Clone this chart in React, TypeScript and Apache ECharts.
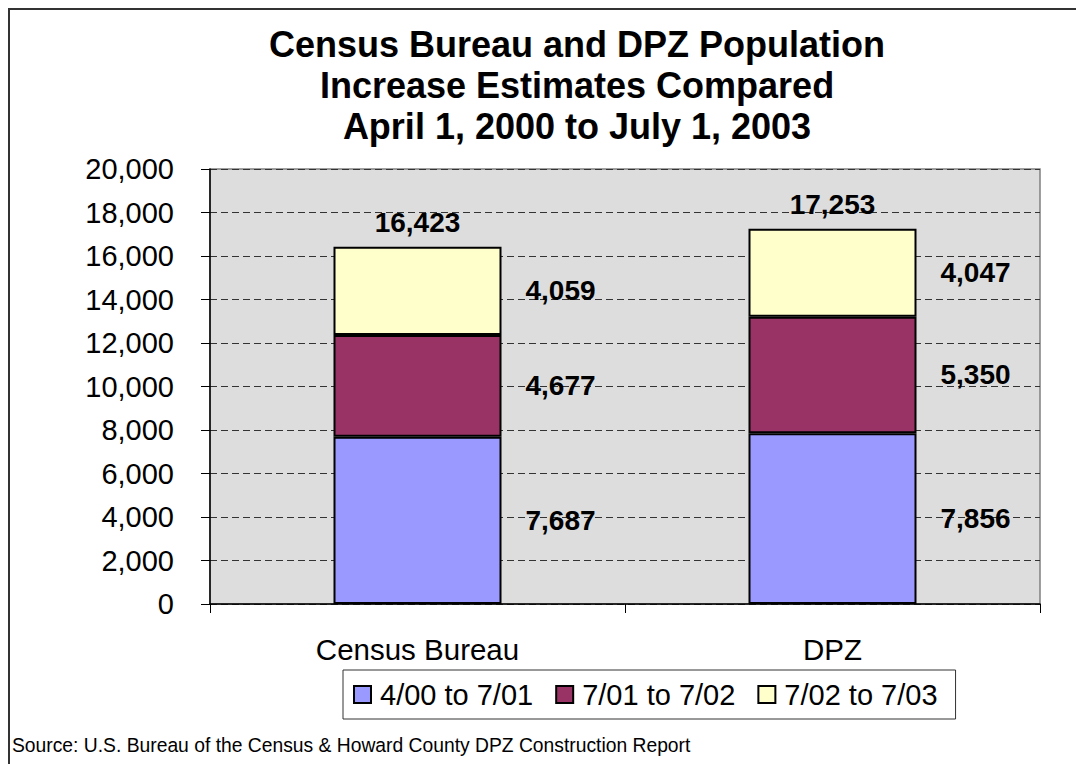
import React, { useEffect, useRef } from "react";
import * as echarts from "echarts";

const categories = ["Census Bureau", "DPZ"];
const seriesNames = ["4/00 to 7/01", "7/01 to 7/02", "7/02 to 7/03"];
const period1 = [7687, 7856];
const period2 = [4677, 5350];
const period3 = [4059, 4047];
const totals = [16423, 17253];
const yTicks = { min: 0, max: 20000, interval: 2000 };
const titleText = "Census Bureau and DPZ Population\nIncrease Estimates Compared\nApril 1, 2000 to July 1, 2003";
const sourceText = "Source: U.S. Bureau of the Census & Howard County DPZ Construction Report";

const FONT = "'Liberation Sans', Arial, sans-serif";
const fmt = (v: number) => v.toLocaleString("en-US");

export default function App() {
  const ref = useRef<HTMLDivElement>(null);
  useEffect(() => {
    if (!ref.current) return;
    const chart = echarts.init(ref.current, null, { renderer: "svg" });
    const colors = ["#9999FF", "#993366", "#FFFFCC"];
    const segLabel = {
      show: true,
      position: "right" as const,
      distance: 24,
      fontFamily: FONT,
      fontSize: 28,
      fontWeight: "bold" as const,
      color: "#000",
      formatter: (p: any) => fmt(p.value),
    };
    const values = [period1, period2, period3];
    chart.setOption({
      animation: false,
      backgroundColor: "#FFFFFF",
      title: {
        text: titleText,
        left: 572,
        top: 19,
        textAlign: "center",
        textStyle: {
          fontFamily: FONT,
          fontSize: 36,
          fontWeight: "bold",
          color: "#000",
          lineHeight: 41,
        },
      },
      grid: {
        left: 210,
        right: 36,
        top: 169,
        bottom: 160,
        show: true,
        backgroundColor: "#DDDDDD",
        borderColor: "#808080",
        borderWidth: 1.5,
      },
      legend: {
        data: seriesNames,
        left: 343,
        top: 670,
        padding: [10, 18, 10, 10],
        borderColor: "#333",
        borderWidth: 1,
        backgroundColor: "#fff",
        itemWidth: 17,
        itemHeight: 17,
        itemGap: 22,
        icon: "rect",
        textStyle: {
          fontFamily: FONT,
          fontSize: 29,
          color: "#000",
          padding: [0, 0, 0, 4],
        },
      },
      xAxis: {
        type: "category",
        data: categories,
        axisLine: { lineStyle: { color: "#000", width: 1.5 } },
        axisTick: { show: true, length: 9, interval: 0, lineStyle: { color: "#000" } },
        axisLabel: { fontFamily: FONT, fontSize: 29.5, color: "#000", margin: 30 },
      },
      yAxis: {
        type: "value",
        min: yTicks.min,
        max: yTicks.max,
        interval: yTicks.interval,
        axisLine: { show: true, lineStyle: { color: "#000", width: 1.5 } },
        axisTick: { show: true, length: 9, lineStyle: { color: "#000" } },
        axisLabel: {
          fontFamily: FONT,
          fontSize: 29,
          color: "#000",
          margin: 36,
          formatter: (v: number) => fmt(v),
        },
        splitLine: {
          show: true,
          lineStyle: { color: "#333", type: [7, 4], width: 1 },
        },
      },
      series: [
        ...seriesNames.map((name, i) => ({
          name,
          type: "bar",
          stack: "total",
          barWidth: 168,
          data: values[i],
          itemStyle: { color: colors[i], borderColor: "#000", borderWidth: 2 },
          label: segLabel,
        })),
        {
          name: "Total",
          type: "line",
          data: totals,
          symbol: "circle",
          symbolSize: 1,
          showSymbol: true,
          itemStyle: { color: "rgba(0,0,0,0)" },
          lineStyle: { opacity: 0 },
          silent: true,
          label: {
            show: true,
            position: "top",
            distance: 10,
            fontFamily: FONT,
            fontSize: 28,
            fontWeight: "bold",
            color: "#000",
            formatter: (p: any) => fmt(p.value),
          },
        },
      ],
      graphic: [
        {
          type: "polyline",
          shape: { points: [[9, 764], [9, 9], [1076, 9]] },
          style: { stroke: "#333", lineWidth: 2, fill: "none" },
          silent: true,
        },
        {
          type: "text",
          left: 12,
          top: 736,
          style: { text: sourceText, fontFamily: FONT, fontSize: 19.3, fill: "#000" },
          silent: true,
        },
      ],
    });
    return () => chart.dispose();
  }, []);
  return (
    <div
      ref={ref}
      style={{ position: "fixed", left: 0, top: 0, width: 1076, height: 764 }}
    />
  );
}
